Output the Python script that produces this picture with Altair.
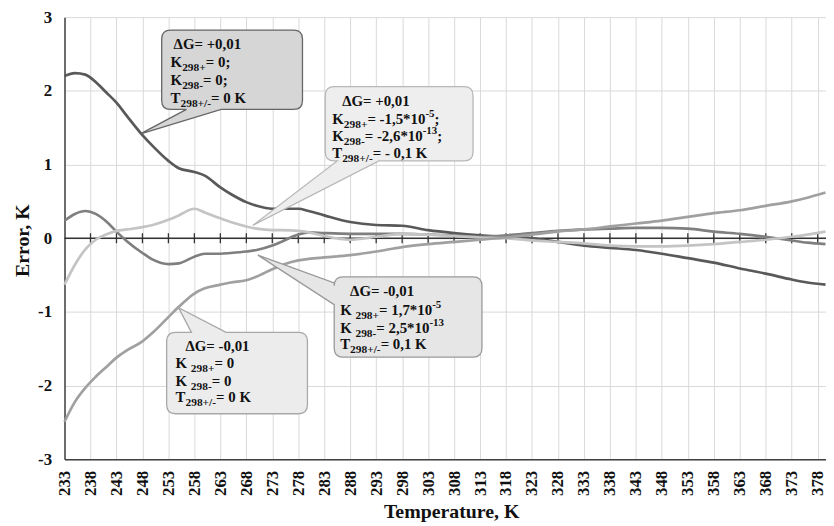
import altair as alt
import pandas as pd

# ---------------- data ----------------
temps = [233, 235, 237, 239, 241, 243, 245, 248, 250, 253, 255, 258, 260, 263, 265,
         268, 270, 273, 275, 278, 280, 283, 288, 293, 298, 303, 308, 313, 318, 323,
         328, 333, 338, 343, 348, 353, 358, 363, 368, 373, 376, 379.5]

s1_plus_K0 = [2.20, 2.24, 2.22, 2.12, 1.98, 1.84, 1.66, 1.40, 1.25, 1.05, 0.95, 0.90, 0.85, 0.69, 0.60,
              0.49, 0.44, 0.40, 0.40, 0.40, 0.37, 0.31, 0.22, 0.18, 0.17, 0.11, 0.07, 0.04, 0.02, 0.00,
              -0.05, -0.10, -0.13, -0.16, -0.21, -0.27, -0.33, -0.41, -0.48, -0.56, -0.60, -0.63]
s2_minus_K = [0.24, 0.33, 0.37, 0.33, 0.23, 0.09, -0.04, -0.20, -0.29, -0.35, -0.34, -0.25, -0.21, -0.21, -0.20,
              -0.18, -0.16, -0.10, -0.04, 0.05, 0.08, 0.07, 0.06, 0.06, 0.06, 0.05, 0.04, 0.02, 0.04, 0.07,
              0.10, 0.12, 0.13, 0.14, 0.14, 0.13, 0.09, 0.06, 0.02, -0.03, -0.06, -0.08]
s3_plus_K = [-0.63, -0.36, -0.15, -0.02, 0.05, 0.10, 0.12, 0.15, 0.18, 0.25, 0.31, 0.40, 0.35, 0.27, 0.22,
             0.16, 0.13, 0.11, 0.11, 0.10, 0.08, 0.03, -0.02, 0.02, 0.06, 0.05, 0.03, 0.01, 0.00, -0.03,
             -0.05, -0.07, -0.10, -0.11, -0.11, -0.10, -0.08, -0.05, -0.02, 0.02, 0.05, 0.09]
s4_minus_K0 = [-2.49, -2.22, -2.03, -1.88, -1.75, -1.62, -1.52, -1.40, -1.28, -1.07, -0.93, -0.75, -0.68, -0.63, -0.60,
               -0.57, -0.52, -0.42, -0.36, -0.30, -0.28, -0.26, -0.23, -0.18, -0.12, -0.08, -0.05, -0.02, 0.01, 0.05,
               0.09, 0.12, 0.16, 0.20, 0.24, 0.29, 0.34, 0.38, 0.44, 0.50, 0.55, 0.62]

series_names = ["dG+0.01 K=0", "dG-0.01 K=1.7e-5", "dG+0.01 K=-1.5e-5", "dG-0.01 K=0"]
series_colors = ["#595959", "#7f7f7f", "#c4c4c4", "#a0a0a0"]
series_values = [s1_plus_K0, s2_minus_K, s3_plus_K, s4_minus_K0]

x_ticks = list(range(233, 379, 5))
y_ticks = [-3, -2, -1, 0, 1, 2, 3]

# ---------------- geometry ----------------
X0, X1 = 233, 379.6
Y0, Y1 = -3, 3
W, H = 768, 446
OX, OY = 65, 15  # plot origin in page pixels


def to_T(px):
    return X0 + (px - OX) / W * (X1 - X0)


def to_v(py):
    return Y1 - (py - OY) / H * (Y1 - Y0)


rows = []
for name, vals in zip(series_names, series_values):
    for t, v in zip(temps, vals):
        rows.append({"T": t, "v": v, "series": name})
df = pd.DataFrame(rows)

FONT = "Liberation Serif"

x_scale = alt.Scale(domain=[X0, X1], nice=False, zero=False)
y_scale = alt.Scale(domain=[Y0, Y1], nice=False, zero=False)

x_axis = alt.Axis(values=x_ticks, grid=True, gridColor="#d9d9d9", gridWidth=1,
                  domainColor="#404040", domainWidth=1.5, ticks=False,
                  labelAngle=270, labelAlign="right", labelBaseline="middle",
                  labelPadding=11, labelFont=FONT, labelFontWeight="bold",
                  labelFontSize=17, labelColor="#111111", labelOverlap=False,
                  labelFlush=False, labelExpr="'' + datum.value",
                  title="Temperature, K", titleFont=FONT, titleFontSize=20,
                  titleFontWeight="bold", titleColor="#111111",
                  titleX=390, titleY=59, titleBaseline="alphabetic", titleAlign="center")
y_axis = alt.Axis(values=y_ticks, grid=True, gridColor="#d9d9d9", gridWidth=1,
                  domainColor="#404040", domainWidth=1.5, ticks=False,
                  labelPadding=13, labelFont=FONT, labelFontWeight="bold",
                  labelFontSize=17, labelColor="#111111", labelExpr="'' + datum.value",
                  title="Error, K", titleFont=FONT, titleFontSize=20,
                  titleFontWeight="bold", titleColor="#111111", titleAngle=270,
                  titleX=-36, titleY=225, titleBaseline="alphabetic", titleAlign="center")

X = alt.X("T:Q", scale=x_scale, axis=x_axis)
Y = alt.Y("v:Q", scale=y_scale, axis=y_axis)

lines = alt.Chart(df).mark_line(strokeWidth=2.7, interpolate="monotone").encode(
    x=X, y=Y,
    color=alt.Color("series:N", scale=alt.Scale(domain=series_names, range=series_colors), legend=None),
)

zero_line = alt.Chart(pd.DataFrame({"v": [0]})).mark_rule(color="#333333", strokeWidth=1.5).encode(y=Y)

tick_df = pd.DataFrame({"T": x_ticks[1:], "v": [-0.068] * (len(x_ticks) - 1), "v2": [0.068] * (len(x_ticks) - 1)})
zero_ticks = alt.Chart(tick_df).mark_rule(color="#333333", strokeWidth=1.3).encode(x=X, y=Y, y2="v2:Q")

# ---------------- callouts ----------------
# box (left, top, right, bottom), tip, pointer edge, pointer base (page pixels)
callouts = [
    dict(box=(163, 28, 305, 108), tip=(141, 133), edge="bottom", b=(188, 223), fill="#d6d6d6", stroke="#666666",
         lines=[(12, 19, [("ΔG= +0,01", "n")]),
                (9, 37.5, [("K", "n"), ("298+", "sub"), ("= 0;", "n")]),
                (9, 55.5, [("K", "n"), ("298-", "sub"), ("= 0;", "n")]),
                (9, 73.5, [("T", "n"), ("298+/-", "sub"), ("= 0 K", "n")])]),
    dict(box=(328, 85, 477, 160), tip=(255, 225), edge="bottom", b=(340, 382), fill="#eeeeee", stroke="#b8b8b8",
         lines=[(17, 20, [("ΔG= +0,01", "n")]),
                (7, 37.5, [("K", "n"), ("298+", "sub"), ("= -1,5*10", "n"), ("-5", "sup"), (";", "n")]),
                (7, 55, [("K", "n"), ("298-", "sub"), ("= -2,6*10", "n"), ("-13", "sup"), (";", "n")]),
                (7, 72, [("T", "n"), ("298+/-", "sub"), ("= - 0,1 K", "n")])]),
    dict(box=(337, 277, 486, 358), tip=(260, 255), edge="left", b=(283, 305), fill="#e6e6e6", stroke="#999999",
         lines=[(16, 19, [("ΔG= -0,01", "n")]),
                (6, 38, [("K ", "n"), ("298+", "sub"), ("= 1,7*10", "n"), ("-5", "sup")]),
                (6, 57, [("K ", "n"), ("298-", "sub"), ("= 2,5*10", "n"), ("-13", "sup")]),
                (6, 73, [("T", "n"), ("298+/-", "sub"), ("= 0,1 K", "n")])]),
    dict(box=(168, 333, 310, 415), tip=(180, 308), edge="top", b=(193, 228), fill="#ececec", stroke="#a8a8a8",
         lines=[(19, 19, [("ΔG= -0,01", "n")]),
                (9, 36, [("K ", "n"), ("298+", "sub"), ("= 0", "n")]),
                (9, 54, [("K ", "n"), ("298-", "sub"), ("= 0", "n")]),
                (9, 70, [("T", "n"), ("298+/-", "sub"), ("= 0 K", "n")])]),
]

CW = {"K": 0.778, "T": 0.667, "G": 0.778, "Δ": 0.64, " ": 0.25, "=": 0.570, "+": 0.570, "-": 0.333,
      ",": 0.25, ";": 0.333, "*": 0.5, "/": 0.278}


def text_width(s, size):
    return sum(CW.get(c, 0.5) for c in s) * size


SIZES = {"n": 15, "sub": 11.5, "sup": 11}
SHIFT = {"n": 0, "sub": 4, "sup": -7}


def callout_path(box, tip, edge, b, r=9):
    L, Tp, R, B = box
    tx, ty = tip

    def p(x, y):
        return f"{x - tx:.1f},{y - ty:.1f}"
    d = [f"M{p(L + r, Tp)}"]
    if edge == "top":
        d += [f"L{p(b[0], Tp)}", f"L{p(tx, ty)}", f"L{p(b[1], Tp)}"]
    d += [f"L{p(R - r, Tp)}", f"Q{p(R, Tp)} {p(R, Tp + r)}"]
    d += [f"L{p(R, B - r)}", f"Q{p(R, B)} {p(R - r, B)}"]
    if edge == "bottom":
        d += [f"L{p(b[1], B)}", f"L{p(tx, ty)}", f"L{p(b[0], B)}"]
    d += [f"L{p(L + r, B)}", f"Q{p(L, B)} {p(L, B - r)}"]
    if edge == "left":
        d += [f"L{p(L, b[1])}", f"L{p(tx, ty)}", f"L{p(L, b[0])}"]
    d += [f"L{p(L, Tp + r)}", f"Q{p(L, Tp)} {p(L + r, Tp)}", "Z"]
    return " ".join(d)


shape_layers = []
pieces = []
for c in callouts:
    path = callout_path(c["box"], c["tip"], c["edge"], c["b"])
    tdf = pd.DataFrame({"T": [to_T(c["tip"][0])], "v": [to_v(c["tip"][1])]})
    shape_layers.append(
        alt.Chart(tdf).mark_point(shape=path, size=4, filled=True, fill=c["fill"], stroke=c["stroke"],
                                  strokeWidth=1.3, opacity=1, fillOpacity=1, strokeOpacity=1).encode(x=X, y=Y))
    L, Tp = c["box"][0], c["box"][1]
    for xo, bl, parts in c["lines"]:
        x = L + xo
        for txt, kind in parts:
            size = SIZES[kind]
            pieces.append({"T": to_T(x), "v": to_v(Tp + bl + SHIFT[kind]), "txt": txt, "size": size})
            x += text_width(txt, size)

pdf = pd.DataFrame(pieces)
texts = alt.Chart(pdf).mark_text(align="left", baseline="alphabetic", font=FONT, fontWeight="bold",
                                 color="#111111").encode(
    x=X, y=Y, text="txt:N", size=alt.Size("size:Q", scale=None))

chart = alt.layer(zero_line, zero_ticks, lines, *shape_layers, texts).properties(
    width=W, height=H,
    autosize=alt.AutoSizeParams(type="none"),
    padding={"left": OX - 8, "top": OY - 8, "right": 0, "bottom": 65},
    background="white",
).configure_view(stroke=None)

chart.save("out.html", embed_options={"renderer": "svg", "actions": False})
